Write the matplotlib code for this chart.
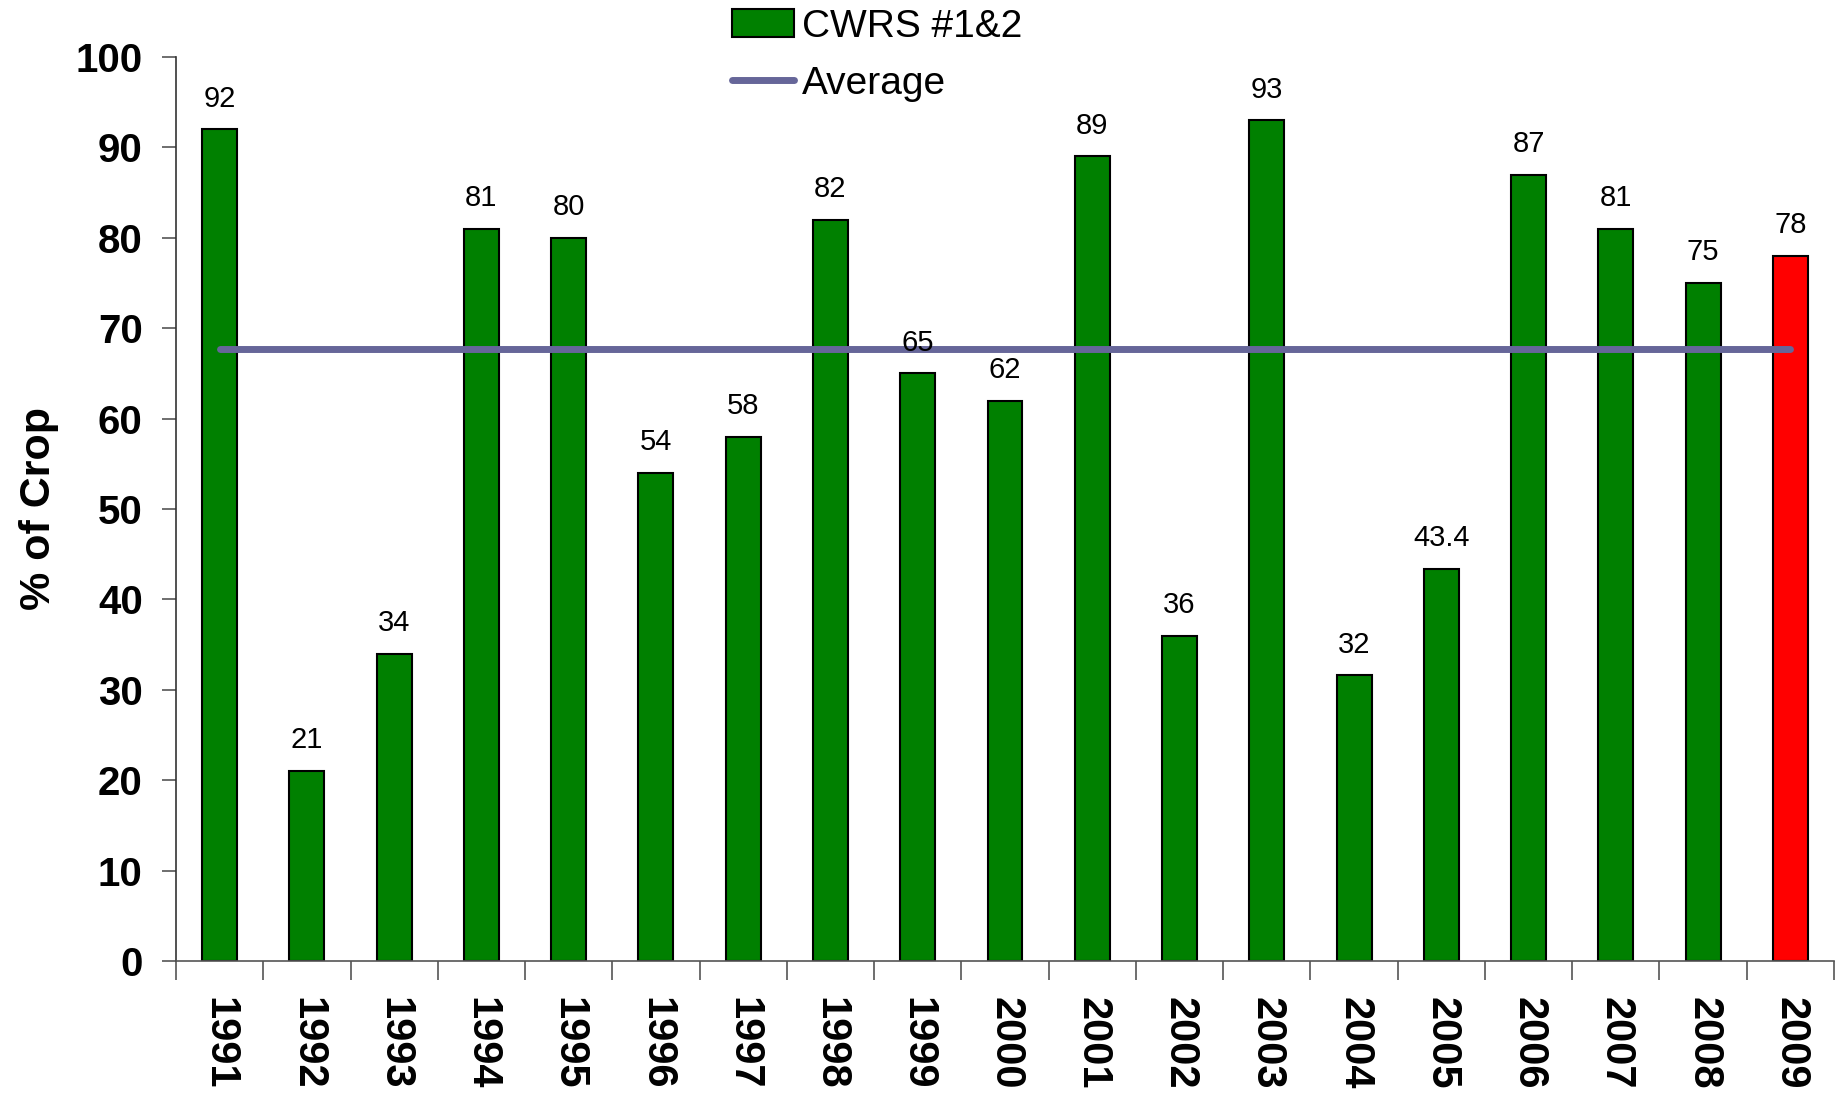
import matplotlib
matplotlib.use('Agg')
import matplotlib.pyplot as plt
import numpy as np

years = ['1991', '1992', '1993', '1994', '1995', '1996', '1997', '1998', '1999', '2000',
         '2001', '2002', '2003', '2004', '2005', '2006', '2007', '2008', '2009']
values = [92, 21, 34, 81, 80, 54, 58, 82, 65, 62, 89, 36, 93, 31.6, 43.4, 87, 81, 75, 78]
labels = ['92', '21', '34', '81', '80', '54', '58', '82', '65', '62',
          '89', '36', '93', '32', '43.4', '87', '81', '75', '78']
average = 67.7

plt.rcParams['font.family'] = ['Liberation Sans', 'DejaVu Sans']

fig = plt.figure(figsize=(18.37, 10.97), dpi=100)
ax = fig.add_axes([176 / 1837, 1 - 961 / 1097, (1834 - 176) / 1837, (961 - 57) / 1097])

x = np.arange(len(years))
colors = ['#008000'] * (len(years) - 1) + ['#ff0000']
bars = ax.bar(x, values, width=0.4, color=colors, edgecolor='black', linewidth=1.5,
              label='CWRS #1&2', zorder=2)
line, = ax.plot([x[0], x[-1]], [average, average], color='#666699', linewidth=5,
                solid_capstyle='round', label='Average', zorder=3)

for xi, v, t in zip(x, values, labels):
    ax.annotate(t, (xi, v), xytext=(0, 12), textcoords='offset points',
                ha='center', va='bottom', fontsize=21)

ax.set_xlim(-0.5, len(years) - 0.5)
ax.set_ylim(0, 100)
ax.set_yticks(range(0, 101, 10))
ax.set_yticklabels([str(v) for v in range(0, 101, 10)], fontsize=29, fontweight='bold')
ax.tick_params(axis='y', length=10, width=1.2, color='#555555', pad=14)

ax.set_xticks(x)
ax.set_xticklabels(years, rotation=270, fontsize=30, fontweight='bold')
ax.tick_params(axis='x', which='major', length=0, pad=26)
ax.set_xticks(np.arange(-0.5, len(years)), minor=True)
ax.tick_params(axis='x', which='minor', length=14, width=1.2, color='#555555')

for s in ['top', 'right']:
    ax.spines[s].set_visible(False)
ax.spines['left'].set_color('#333333')
ax.spines['bottom'].set_color('#555555')
ax.spines['left'].set_linewidth(1.2)
ax.spines['bottom'].set_linewidth(1.2)

ax.set_ylabel('% of Crop', fontsize=31, fontweight='bold', labelpad=12)

fig.legend(handles=[bars, line], loc='upper left', bbox_to_anchor=(697 / 1837, 1.024),
           frameon=False, fontsize=28, handlelength=1.6, handletextpad=0.2,
           labelspacing=0.55)

fig.savefig('out.png', dpi=100)
